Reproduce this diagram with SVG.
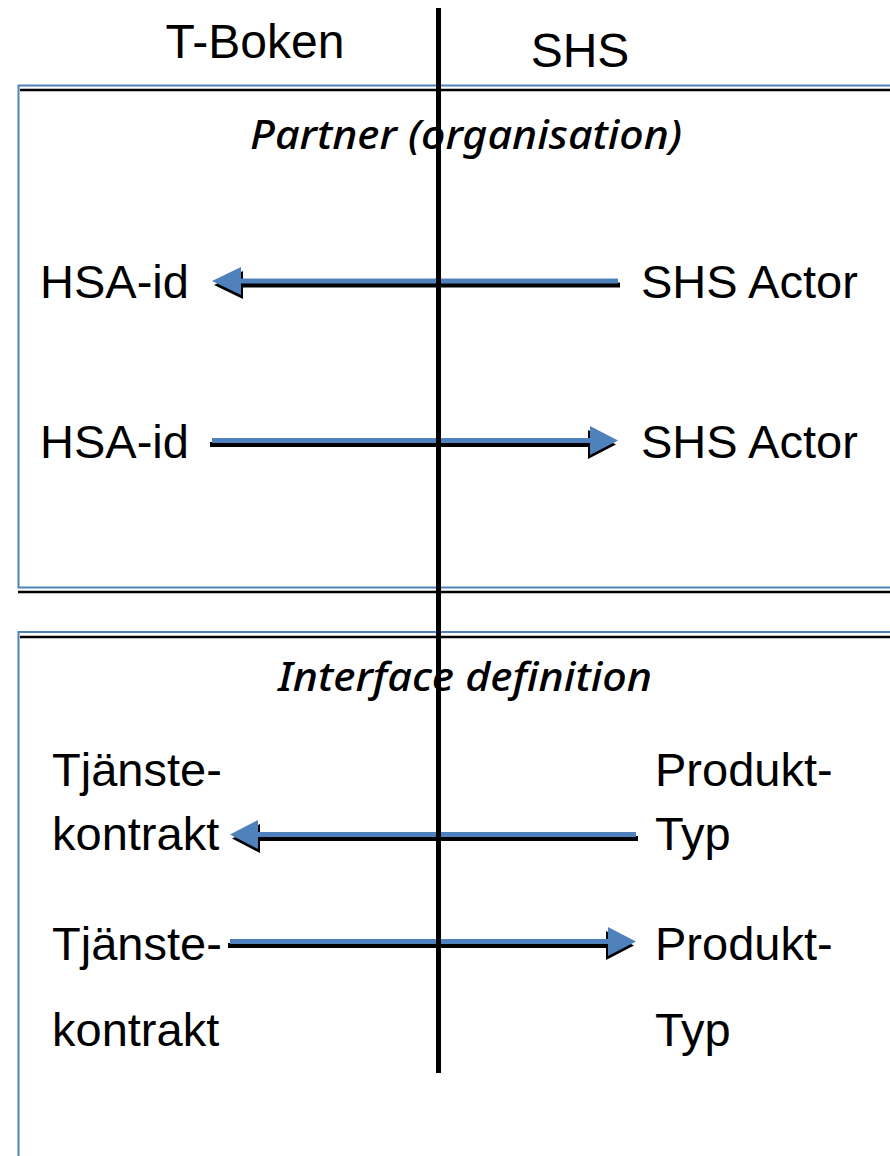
<svg xmlns="http://www.w3.org/2000/svg" width="890" height="1156" viewBox="0 0 890 1156">
  <style>
    .lbl { font-family: "Liberation Sans", Arial, sans-serif; font-size: 47px; fill: #000; }
    .hdr { font-family: "Liberation Sans", Arial, sans-serif; font-size: 48px; fill: #000; }
    .ttl { font-family: "Noto Sans", "Open Sans", sans-serif; font-style: italic; font-weight: 500; font-size: 40px; fill: #000; }
    .frame { fill: none; stroke: #4f81bd; stroke-width: 2; }
    .frame-sh { fill: none; stroke: #000; stroke-width: 2.5; }
    .arr { fill: #4f81bd; }
    .arr-sh { fill: #000; }
  </style>

  <rect width="890" height="1156" fill="#fff"/>

  <!-- column headings -->
  <g id="col-tboken"><text class="hdr" x="255" y="58" text-anchor="middle">T-Boken</text></g>
  <g id="col-shs"><text class="hdr" x="580" y="67" text-anchor="middle">SHS</text></g>

  <!-- partner frame -->
  <g id="frame-partner">
    <path class="frame-sh" d="M20 90 H892 M18 592 H892"/>
    <rect class="frame" x="18.5" y="85.5" width="880" height="502"/>
    <text class="ttl" x="466" y="149" text-anchor="middle" textLength="432" lengthAdjust="spacingAndGlyphs">Partner (organisation)</text>
  </g>

  <!-- interface frame -->
  <g id="frame-interface">
    <path class="frame-sh" d="M20 637 H892"/>
    <rect class="frame" x="18.5" y="632" width="880" height="540"/>
    <text class="ttl" x="465" y="691" text-anchor="middle" textLength="374" lengthAdjust="spacingAndGlyphs">Interface definition</text>
  </g>

  <!-- nodes -->
  <g id="hsa-id-1"><text class="lbl" x="40" y="298">HSA-id</text></g>
  <g id="shs-actor-1"><text class="lbl" x="641" y="298">SHS Actor</text></g>
  <g id="hsa-id-2"><text class="lbl" x="40" y="458">HSA-id</text></g>
  <g id="shs-actor-2"><text class="lbl" x="641" y="458">SHS Actor</text></g>

  <g id="tjanstekontrakt-1">
    <text class="lbl" x="52" y="786">Tjänste-</text>
    <text class="lbl" x="52" y="850">kontrakt</text>
  </g>
  <g id="produkttyp-1">
    <text class="lbl" x="655" y="786">Produkt-</text>
    <text class="lbl" x="655" y="850">Typ</text>
  </g>
  <g id="tjanstekontrakt-2">
    <text class="lbl" x="52" y="960">Tjänste-</text>
    <text class="lbl" x="52" y="1046">kontrakt</text>
  </g>
  <g id="produkttyp-2">
    <text class="lbl" x="655" y="960">Produkt-</text>
    <text class="lbl" x="655" y="1046">Typ</text>
  </g>

  <!-- connectors: blue arrows with a black drop shadow -->
  <g id="connectors">
    <!-- SHS Actor -> HSA-id -->
    <g transform="translate(2 4)">
      <path class="arr-sh" d="M241 278.5 H618 V283.5 H241 V295 L212 281 L241 267 Z"/>
    </g>
    <path class="arr" d="M241 278.5 H618 V283.5 H241 V295 L212 281 L241 267 Z"/>

    <!-- HSA-id -> SHS Actor -->
    <g transform="translate(-2 4)">
      <path class="arr-sh" d="M212 438 H590 V426 L618 440.5 L590 455 V443 H212 Z"/>
    </g>
    <path class="arr" d="M212 438 H590 V426 L618 440.5 L590 455 V443 H212 Z"/>

    <!-- Produkt-Typ -> Tjänstekontrakt -->
    <g transform="translate(2 4)">
      <path class="arr-sh" d="M258 832 H636 V837 H258 V849 L230 834.5 L258 820 Z"/>
    </g>
    <path class="arr" d="M258 832 H636 V837 H258 V849 L230 834.5 L258 820 Z"/>

    <!-- Tjänstekontrakt -> Produkt-Typ -->
    <g transform="translate(-2 4)">
      <path class="arr-sh" d="M230 939 H608 V927 L636 941.5 L608 956 V944 H230 Z"/>
    </g>
    <path class="arr" d="M230 939 H608 V927 L636 941.5 L608 956 V944 H230 Z"/>

    <!-- boundary between T-Boken and SHS -->
    <line x1="438.5" y1="8" x2="438.5" y2="1073" stroke="#000" stroke-width="5"/>
  </g>
</svg>
